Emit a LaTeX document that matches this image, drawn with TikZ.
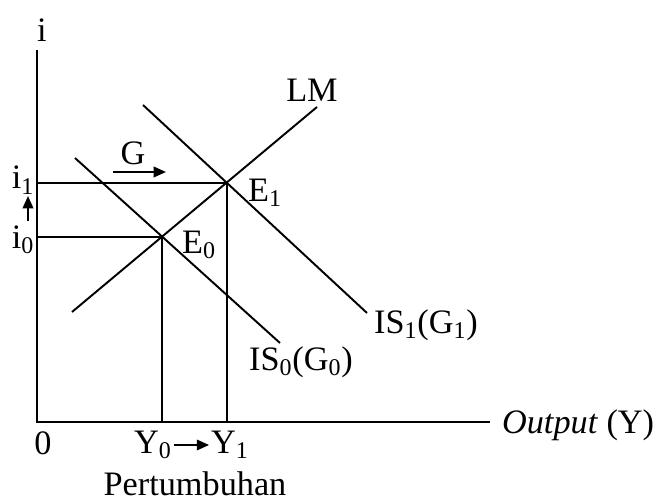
\documentclass[tikz,border=0pt]{standalone}
\usepackage{fontspec}
\setmainfont{Liberation Serif}
\usepackage{tikz}
\usetikzlibrary{arrows.meta,positioning,intersections}

\begin{document}
\begin{tikzpicture}[x=0.02cm,y=-0.02cm,>={Triangle[length=7pt,width=6pt]},
  curve/.style={line width=1.1pt},
  guide/.style={line width=1.1pt},
  every node/.style={font=\fontsize{19.5}{22}\selectfont,inner sep=1pt}]
  \useasboundingbox (0,0) rectangle (659,502);
  % axes
  \coordinate (O) at (37,422);
  \coordinate (ytop) at (37,50);
  \coordinate (xend) at (490,422);
  \draw[curve] (ytop) -- (O) -- (xend);
  \node (ilab) at (42,30) {i};
  \node[anchor=west] (outlab) at (500,425) {\textit{Output} (Y)};
  \node (zero) at (43,443) {0};
  % LM and IS curves
  \coordinate (lmA) at (72,312);
  \coordinate (lmB) at (317,107);
  \coordinate (isA) at (75,158);
  \coordinate (isB) at (280,343);
  \coordinate (isC) at (143,105);
  \coordinate (isD) at (367,313);
  \draw[curve,name path=lm] (lmA) -- (lmB);
  \draw[curve,name path=is0] (isA) -- (isB);
  \draw[curve,name path=is1] (isC) -- (isD);
  \path[name intersections={of=lm and is0,by=E0}];
  \path[name intersections={of=lm and is1,by=E1}];
  \node (lmlab) at (312,90) {LM};
  \node[anchor=west] (is0lab) at (247,362) {IS\textsubscript{0}(G\textsubscript{0})};
  \node[anchor=west] (is1lab) at (372,325) {IS\textsubscript{1}(G\textsubscript{1})};
  % equilibria
  \draw[guide] (O |- E1) -- (E1) -- (E1 |- O);
  \draw[guide] (O |- E0) -- (E0) -- (E0 |- O);
  \node (e0lab) at (199,245) {E\textsubscript{0}};
  \node (e1lab) at (265,193) {E\textsubscript{1}};
  \node (i1lab) at (23,180) {i\textsubscript{1}};
  \node (i0lab) at (23,240) {i\textsubscript{0}};
  \coordinate (upA) at (28,221);
  \coordinate (upB) at (28,196);
  \draw[->,line width=1.1pt] (upA) -- (upB);
  % shift of G
  \node (glab) at (133,153) {G};
  \coordinate (gA) at (113,172);
  \coordinate (gB) at (166,172);
  \draw[->,line width=1.1pt] (gA) -- (gB);
  % output change
  \node (y0lab) at (153,445) {Y\textsubscript{0}};
  \node (y1lab) at (230,445) {Y\textsubscript{1}};
  \draw[->,line width=1.1pt] (y0lab.east) -- (y1lab.west);
  \node (growth) at (195,484) {Pertumbuhan};
\end{tikzpicture}
\end{document}
